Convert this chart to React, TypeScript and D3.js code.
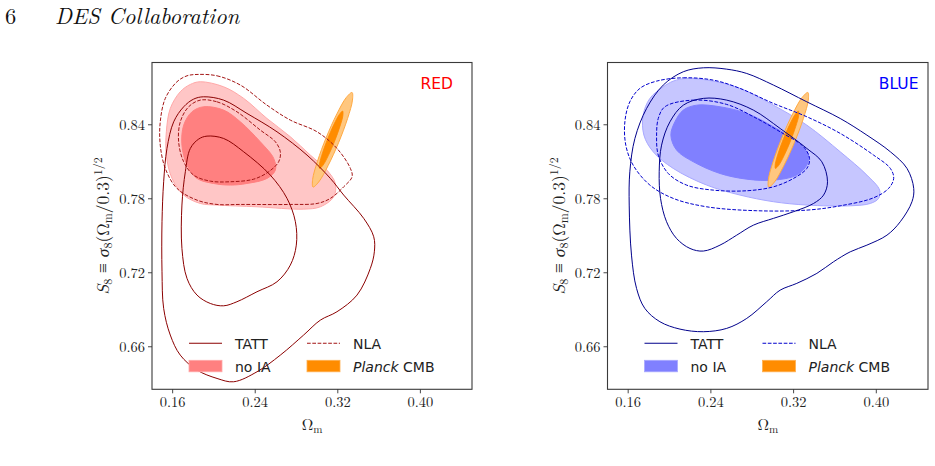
import React from "react";
import * as d3 from "d3";

type P = [number, number];

const xTicks = [0.16, 0.24, 0.32, 0.4];
const yTicks = [0.66, 0.72, 0.78, 0.84];
const xTickLabels = ["0.16", "0.24", "0.32", "0.40"];
const yTickLabels = ["0.66", "0.72", "0.78", "0.84"];
const xDomain: P = [0.14, 0.45];
const yDomain: P = [0.6255, 0.8905];

const legendLabels = ["TATT", "NLA", "no IA", "Planck", "CMB"];

// Planck CMB contours (same in both panels)
const planck95: P[] = [
  [0.3338, 0.8662], [0.3342, 0.86], [0.3295, 0.8452], [0.3209, 0.8258], [0.3106, 0.8069], [0.3015, 0.7936],
  [0.296, 0.7895], [0.2956, 0.7956], [0.3003, 0.8104], [0.3089, 0.8299], [0.3191, 0.8488], [0.3282, 0.8621],
];
const planck68: P[] = [
  [0.3247, 0.8511], [0.3249, 0.8474], [0.322, 0.8385], [0.3169, 0.8267], [0.3109, 0.8152], [0.3056, 0.8071],
  [0.3024, 0.8046], [0.3023, 0.8082], [0.3052, 0.8172], [0.3103, 0.8289], [0.3163, 0.8404], [0.3216, 0.8485],
];

// RED panel
const redNoIA95: P[] = [
  [0.1868, 0.8749], [0.2094, 0.8708], [0.2288, 0.8614], [0.2514, 0.8451], [0.274, 0.8303], [0.2934, 0.8154],
  [0.3095, 0.8032], [0.3176, 0.7924], [0.316, 0.7816], [0.3031, 0.7735], [0.2869, 0.7716], [0.2417, 0.7735],
  [0.203, 0.7749], [0.1868, 0.7762], [0.1707, 0.783], [0.1594, 0.7965], [0.1539, 0.8154], [0.1539, 0.8343],
  [0.1577, 0.8532], [0.1674, 0.8668], [0.1771, 0.8727],
];
const redNoIA68: P[] = [
  [0.19, 0.8546], [0.2094, 0.8519], [0.2256, 0.8424], [0.2449, 0.8262], [0.2579, 0.8127], [0.2595, 0.8032],
  [0.2514, 0.7965], [0.232, 0.7924], [0.2159, 0.7911], [0.1997, 0.7924], [0.1836, 0.7965], [0.1739, 0.8073],
  [0.169, 0.8235], [0.1707, 0.8397], [0.1787, 0.8505],
];
const redNLA95: P[] = [
  [0.1836, 0.8808], [0.203, 0.8797], [0.2256, 0.8722], [0.2514, 0.8559], [0.274, 0.8438], [0.2999, 0.8343],
  [0.3192, 0.8208], [0.3322, 0.8046], [0.3338, 0.7978], [0.3257, 0.7897], [0.3128, 0.7803], [0.2999, 0.7762],
  [0.274, 0.7754], [0.2256, 0.7754], [0.203, 0.7754], [0.1836, 0.7789], [0.1642, 0.7884], [0.1529, 0.8046],
  [0.148, 0.8235], [0.148, 0.8424], [0.1529, 0.8614], [0.1642, 0.8749], [0.1739, 0.8797],
];
const redNLA68: P[] = [
  [0.1868, 0.86], [0.203, 0.8586], [0.2223, 0.8505], [0.2449, 0.8357], [0.2595, 0.8262], [0.2643, 0.8181],
  [0.2627, 0.81], [0.253, 0.8019], [0.2385, 0.7959], [0.2159, 0.7938], [0.1965, 0.7943], [0.1803, 0.7992],
  [0.1707, 0.81], [0.1658, 0.8262], [0.1674, 0.8424], [0.1755, 0.8546],
];
const redTATT95: P[] = [
  [0.19, 0.8627], [0.2094, 0.86], [0.232, 0.8492], [0.2611, 0.8343], [0.2902, 0.8154], [0.3128, 0.7965],
  [0.3257, 0.783], [0.3451, 0.7641], [0.3548, 0.7492], [0.3554, 0.737], [0.3515, 0.7235], [0.3386, 0.7019],
  [0.3192, 0.6884], [0.3031, 0.6816], [0.2869, 0.6695], [0.2643, 0.6532], [0.2417, 0.6397], [0.2191, 0.6316],
  [0.203, 0.6343], [0.1836, 0.6411], [0.1674, 0.6532], [0.1577, 0.6695], [0.1513, 0.6911], [0.1497, 0.7208],
  [0.1497, 0.7614], [0.1513, 0.7938], [0.1545, 0.8208], [0.161, 0.8424], [0.1707, 0.8546], [0.1803, 0.8608],
];
const redTATT68: P[] = [
  [0.1933, 0.8308], [0.2094, 0.8289], [0.2288, 0.8181], [0.2546, 0.7992], [0.2708, 0.7803], [0.2789, 0.7614],
  [0.2798, 0.7424], [0.274, 0.7262], [0.2611, 0.7127], [0.2417, 0.7046], [0.2223, 0.6965], [0.2094, 0.6932],
  [0.1965, 0.6951], [0.1836, 0.7019], [0.1739, 0.7154], [0.169, 0.7397], [0.169, 0.7749], [0.1723, 0.8019],
  [0.1771, 0.8208], [0.1852, 0.8284],
];

// BLUE panel
const blueNoIA95: P[] = [
  [0.2165, 0.8776], [0.2424, 0.8754], [0.2682, 0.8695], [0.3005, 0.8559], [0.3328, 0.8397], [0.3651, 0.8181],
  [0.3909, 0.7992], [0.4032, 0.787], [0.4022, 0.7803], [0.3942, 0.7762], [0.3748, 0.7743], [0.3328, 0.7749],
  [0.3005, 0.7776], [0.2682, 0.783], [0.2359, 0.7911], [0.2036, 0.8046], [0.1842, 0.8181], [0.1752, 0.8316],
  [0.1745, 0.8478], [0.181, 0.8614], [0.1939, 0.8708], [0.2036, 0.8754],
];
const blueNoIA68: P[] = [
  [0.2262, 0.8559], [0.2488, 0.8546], [0.2747, 0.8492], [0.3005, 0.8384], [0.3231, 0.8262], [0.3344, 0.8154],
  [0.3328, 0.8073], [0.3231, 0.7992], [0.3005, 0.7951], [0.2747, 0.7959], [0.2488, 0.8005], [0.223, 0.81],
  [0.2068, 0.8195], [0.2013, 0.8316], [0.2052, 0.8424], [0.2133, 0.8519],
];
const blueNLA95: P[] = [
  [0.1875, 0.8754], [0.2133, 0.8781], [0.2424, 0.8762], [0.2682, 0.8695], [0.3005, 0.8573], [0.3328, 0.8465],
  [0.3651, 0.833], [0.3974, 0.8154], [0.4136, 0.8046], [0.4168, 0.7965], [0.4119, 0.7884], [0.3974, 0.7808],
  [0.3651, 0.7743], [0.3328, 0.7708], [0.2844, 0.7703], [0.2359, 0.7735], [0.2036, 0.7803], [0.181, 0.7911],
  [0.1648, 0.8073], [0.1577, 0.8235], [0.1568, 0.8424], [0.1616, 0.8586], [0.1713, 0.8695],
];
const blueNLA68: P[] = [
  [0.1955, 0.8546], [0.223, 0.86], [0.2553, 0.8565], [0.2844, 0.8451], [0.307, 0.8343], [0.3296, 0.8222],
  [0.3354, 0.8127], [0.3328, 0.8046], [0.3199, 0.7965], [0.3005, 0.7897], [0.2747, 0.7865], [0.2424, 0.787],
  [0.2165, 0.7911], [0.1988, 0.8005], [0.1891, 0.8154], [0.1875, 0.8316], [0.1891, 0.8451],
];
const blueTATT95: P[] = [
  [0.2327, 0.8862], [0.2553, 0.8851], [0.2747, 0.8816], [0.3005, 0.8722], [0.3328, 0.8586], [0.3651, 0.8451],
  [0.3909, 0.8316], [0.4136, 0.8181], [0.4297, 0.8046], [0.4362, 0.7884], [0.4345, 0.7776], [0.4232, 0.7614],
  [0.4103, 0.7505], [0.3909, 0.7424], [0.3748, 0.737], [0.3586, 0.7289], [0.3425, 0.7195], [0.3231, 0.7114],
  [0.307, 0.7059], [0.294, 0.6965], [0.2747, 0.683], [0.2553, 0.6749], [0.2327, 0.6722], [0.2101, 0.6743],
  [0.1907, 0.6803], [0.1761, 0.6911], [0.1681, 0.7073], [0.1632, 0.7343], [0.161, 0.7749], [0.1616, 0.8019],
  [0.1665, 0.8289], [0.1778, 0.8532], [0.1939, 0.8722], [0.2133, 0.883],
];
const blueTATT68: P[] = [
  [0.2327, 0.8614], [0.2553, 0.86], [0.2811, 0.8519], [0.307, 0.837], [0.3328, 0.8208], [0.3473, 0.81],
  [0.3528, 0.7938], [0.349, 0.783], [0.3393, 0.7762], [0.3199, 0.7695], [0.3005, 0.7641], [0.2811, 0.7586],
  [0.265, 0.7505], [0.2488, 0.7424], [0.2327, 0.7376], [0.2198, 0.7397], [0.2068, 0.7478], [0.1971, 0.7614],
  [0.1913, 0.7803], [0.19, 0.8019], [0.1923, 0.8235], [0.2004, 0.8424], [0.2133, 0.8559],
];

const FY0 = 62.5;
const FY1 = 389.3;

interface PanelProps {
  x0: number;
  x1: number;
  id: string;
  title: string;
  titleColor: string;
  titleRight: number;
  fillOuter: string;
  edgeOuter: string;
  fillInner: string;
  tattColor: string;
  nlaColor: string;
  noIA95: P[];
  noIA68: P[];
  nla95: P[];
  nla68: P[];
  tatt95: P[];
  tatt68: P[];
}

const serif = "'Latin Modern Roman', 'CMU Serif', 'Liberation Serif', 'DejaVu Serif', serif";
const sans = "'DejaVu Sans', sans-serif";

function Panel(p: PanelProps) {
  const x = d3.scaleLinear().domain(xDomain).range([p.x0, p.x1]);
  const y = d3.scaleLinear().domain(yDomain).range([FY1, FY0]);
  const line = d3
    .line<P>()
    .x((d) => x(d[0]))
    .y((d) => y(d[1]))
    .curve(d3.curveCatmullRomClosed.alpha(0.5));
  const clipId = "clip-" + p.id;
  const cx = (p.x0 + p.x1) / 2;
  const cy = (FY0 + FY1) / 2;
  const lx = p.x0 + 37;
  return (
    <g>
      <defs>
        <clipPath id={clipId}>
          <rect x={p.x0} y={FY0} width={p.x1 - p.x0} height={FY1 - FY0} />
        </clipPath>
      </defs>
      <g clipPath={`url(#${clipId})`}>
        <path d={line(p.noIA95) || ""} fill={p.fillOuter} stroke={p.edgeOuter} strokeWidth={1} />
        <path d={line(p.noIA68) || ""} fill={p.fillInner} stroke={p.fillInner} strokeWidth={1} />
        <path d={line(planck95) || ""} fill="#ffc77f" stroke="#ffa940" strokeWidth={1} />
        <path d={line(planck68) || ""} fill="#ff8c00" stroke="#ff8c00" strokeWidth={0.8} />
        <path d={line(p.nla95) || ""} fill="none" stroke={p.nlaColor} strokeWidth={1} strokeDasharray="3.7,1.6" />
        <path d={line(p.nla68) || ""} fill="none" stroke={p.nlaColor} strokeWidth={1} strokeDasharray="3.7,1.6" />
        <path d={line(p.tatt95) || ""} fill="none" stroke={p.tattColor} strokeWidth={1} />
        <path d={line(p.tatt68) || ""} fill="none" stroke={p.tattColor} strokeWidth={1} />
      </g>
      <rect x={p.x0} y={FY0} width={p.x1 - p.x0} height={FY1 - FY0} fill="none" stroke="#3a3a3a" strokeWidth={1.1} />
      {xTicks.map((t, i) => (
        <g key={"x" + i}>
          <line x1={x(t)} x2={x(t)} y1={FY1} y2={FY1 + 4} stroke="#333" strokeWidth={0.9} />
          <text x={x(t)} y={FY1 + 18} textAnchor="middle" fontFamily={serif} fontSize={14.5} fill="#222">
            {xTickLabels[i]}
          </text>
        </g>
      ))}
      {yTicks.map((t, i) => (
        <g key={"y" + i}>
          <line x1={p.x0 - 4} x2={p.x0} y1={y(t)} y2={y(t)} stroke="#333" strokeWidth={0.9} />
          <text x={p.x0 - 7} y={y(t) + 5} textAnchor="end" fontFamily={serif} fontSize={14.5} fill="#222">
            {yTickLabels[i]}
          </text>
        </g>
      ))}
      <text x={cx} y={FY1 + 41} textAnchor="middle" fontFamily={serif} fontSize={16} fill="#222">
        Ω<tspan fontSize={11} dy={3}>m</tspan>
      </text>
      <text
        transform={`translate(${p.x0 - 43},${cy}) rotate(-90)`}
        textAnchor="middle"
        fontFamily={serif}
        fontSize={17.5}
        fill="#222"
      >
        <tspan fontStyle="italic">S</tspan>
        <tspan fontSize={12} dy={3}>8</tspan>
        <tspan dy={-3}> ≡ </tspan>
        <tspan fontStyle="italic">σ</tspan>
        <tspan fontSize={12} dy={3}>8</tspan>
        <tspan dy={-3}>(Ω</tspan>
        <tspan fontSize={12} dy={3}>m</tspan>
        <tspan dy={-3}>/0.3)</tspan>
        <tspan fontSize={12} dy={-7}>1/2</tspan>
      </text>
      <text x={p.titleRight} y={88.5} textAnchor="end" fontFamily={sans} fontSize={15.5} fill={p.titleColor}>
        {p.title}
      </text>
      {/* legend */}
      <line x1={lx} x2={lx + 33} y1={343.3} y2={343.3} stroke={p.tattColor} strokeWidth={1.1} />
      <text x={lx + 46} y={348.5} fontFamily={sans} fontSize={14} fill="#222">
        {legendLabels[0]}
      </text>
      <line x1={lx + 118} x2={lx + 151} y1={343.3} y2={343.3} stroke={p.nlaColor} strokeWidth={1.1} strokeDasharray="3.7,1.6" />
      <text x={lx + 164} y={348.5} fontFamily={sans} fontSize={14} fill="#222">
        {legendLabels[1]}
      </text>
      <rect x={lx} y={360.3} width={33} height={11.5} fill={p.fillInner} stroke={p.edgeOuter} strokeWidth={0.8} />
      <text x={lx + 46} y={371.5} fontFamily={sans} fontSize={14} fill="#222">
        {legendLabels[2]}
      </text>
      <rect x={lx + 118} y={360.3} width={33} height={11.5} fill="#ff8c00" stroke="#ffb050" strokeWidth={0.8} />
      <text x={lx + 164} y={371.5} fontFamily={sans} fontSize={14} fill="#222">
        <tspan fontStyle="italic">{legendLabels[3]}</tspan> {legendLabels[4]}
      </text>
    </g>
  );
}

export default function App() {
  return (
    <svg
      width={935}
      height={466}
      viewBox="0 0 935 466"
      style={{ position: "absolute", left: 0, top: 0, background: "#fff" }}
    >
      <rect x={0} y={0} width={935} height={466} fill="#fff" />
      <text x={5} y={24} fontFamily={serif} fontSize={22.5} fill="#111">6</text>
      <text x={55} y={24} fontFamily={serif} fontSize={22.5} fontStyle="italic" fill="#111">
        DES Collaboration
      </text>
      <Panel
        id="red"
        x0={152}
        x1={472}
        title="RED"
        titleColor="#ff0000"
        titleRight={453}
        fillOuter="#ffc6c6"
        edgeOuter="#ffa8a8"
        fillInner="#ff8080"
        tattColor="#8b0000"
        nlaColor="#a31515"
        noIA95={redNoIA95}
        noIA68={redNoIA68}
        nla95={redNLA95}
        nla68={redNLA68}
        tatt95={redTATT95}
        tatt68={redTATT68}
      />
      <Panel
        id="blue"
        x0={607.5}
        x1={928}
        title="BLUE"
        titleColor="#0000ff"
        titleRight={918.5}
        fillOuter="#c6c6ff"
        edgeOuter="#a8a8ff"
        fillInner="#8080ff"
        tattColor="#00008b"
        nlaColor="#0000cd"
        noIA95={blueNoIA95}
        noIA68={blueNoIA68}
        nla95={blueNLA95}
        nla68={blueNLA68}
        tatt95={blueTATT95}
        tatt68={blueTATT68}
      />
    </svg>
  );
}
